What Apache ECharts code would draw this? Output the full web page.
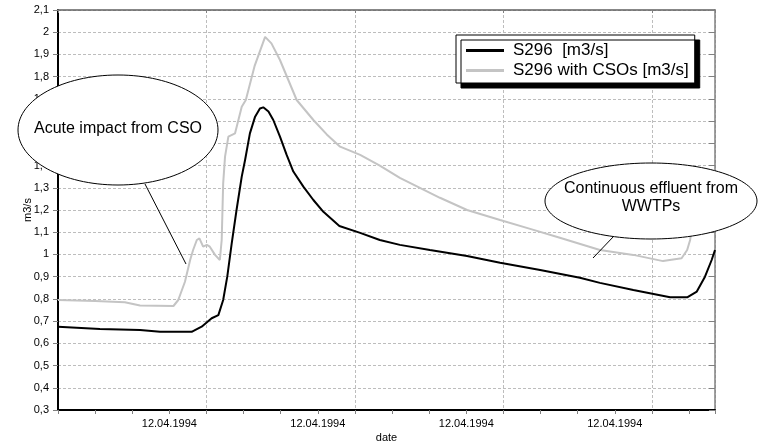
<!DOCTYPE html>
<html>
<head>
<meta charset="utf-8">
<script src="https://cdn.jsdelivr.net/npm/echarts@6/dist/echarts.min.js"></script>
<style>
html,body{margin:0;padding:0;background:#fff;}
#c{width:758px;height:443px;}
</style>
</head>
<body>
<div id="c"></div>
<script>
// ---- data ----
const seriesNames = ['S296  [m3/s]', 'S296 with CSOs [m3/s]'];
const xTickLabel = '12.04.1994';
const labelledTicks = [0, 4, 8, 12];

const s296X = [-3.0,-1.87,-0.79,-0.25,0.60,0.87,1.14,1.32,1.45,1.56,1.68,1.81,1.95,2.04,2.17,2.31,2.44,2.53,2.67,2.80,2.98,3.16,3.34,3.61,3.88,4.15,4.58,5.14,5.67,6.21,7.02,8.02,8.91,9.99,11.06,11.60,12.50,13.49,13.95,14.21,14.43,14.61,14.70];
const s296Y = [0.675,0.665,0.66,0.652,0.652,0.675,0.713,0.727,0.795,0.90,1.05,1.20,1.35,1.425,1.545,1.62,1.657,1.662,1.643,1.605,1.53,1.448,1.373,1.305,1.245,1.192,1.128,1.097,1.065,1.043,1.02,0.993,0.963,0.93,0.895,0.872,0.84,0.807,0.807,0.833,0.90,0.975,1.02];

const csoX = [-3.0,-2.0,-1.2,-0.79,0.11,0.24,0.42,0.56,0.64,0.74,0.81,0.91,1.01,1.09,1.23,1.36,1.41,1.45,1.50,1.59,1.77,1.86,1.95,2.06,2.30,2.58,2.75,2.98,3.43,3.88,4.24,4.60,5.14,5.67,6.21,6.75,7.29,8.02,8.91,9.72,10.52,11.60,12.50,13.30,13.80,13.95,14.03,14.10,14.30,14.70];
const csoY = [0.795,0.79,0.785,0.77,0.768,0.795,0.877,0.975,1.02,1.065,1.072,1.035,1.043,1.035,0.998,0.975,1.065,1.32,1.44,1.53,1.545,1.605,1.665,1.695,1.85,1.979,1.95,1.875,1.695,1.605,1.54,1.485,1.448,1.40,1.345,1.30,1.255,1.20,1.155,1.115,1.075,1.02,0.998,0.97,0.983,1.02,1.065,1.15,1.22,1.30];

const annotation1 = ['Acute impact from CSO'];
const annotation2 = ['Continuous effluent from', 'WWTPs'];

// ---- chart ----
const FONT = '"Liberation Sans", Arial, sans-serif';
const zip = (xs, ys) => xs.map((x, i) => [x, ys[i]]);
const yFmt = v => {
  const s = (Math.round(v * 10) / 10).toFixed(1);
  return s.endsWith('.0') ? s.slice(0, -2) : s.replace('.', ',');
};
const X_MIN = -3, X_MAX = 14.7;
const gridDash = { show: true, lineStyle: { color: '#bdbdbd', type: [3, 2], width: 1 } };

const chart = echarts.init(document.getElementById('c'), null, { renderer: 'canvas' });
chart.setOption({
  backgroundColor: '#fff',
  animation: false,
  textStyle: { fontFamily: FONT },
  grid: { left: 58, right: 43, top: 10, bottom: 33, containLabel: false, outerBoundsMode: 'none' },
  xAxis: [
    {
      type: 'value', position: 'bottom', min: X_MIN, max: X_MAX, interval: 4,
      name: 'date', nameLocation: 'middle', nameGap: 22, nameMoveOverlap: false,
      nameTextStyle: { fontSize: 11, color: '#000', fontFamily: FONT },
      axisLine: { show: true, onZero: false, lineStyle: { color: '#000', width: 2 } },
      axisTick: { show: false },
      axisLabel: {
        show: true, fontSize: 11, color: '#000', margin: 8, fontFamily: FONT,
        customValues: labelledTicks, hideOverlap: false,
        formatter: () => xTickLabel
      },
      splitLine: gridDash
    },
    {
      type: 'value', position: 'bottom', min: X_MIN, max: X_MAX, interval: 1,
      axisLine: { show: false, onZero: false },
      axisTick: { show: true, length: 4, lineStyle: { color: '#808080' } },
      axisLabel: { show: false },
      splitLine: { show: false }
    },
    {
      type: 'value', position: 'top', min: X_MIN, max: X_MAX, interval: 4,
      axisLine: { show: true, onZero: false, lineStyle: { color: '#606060', width: 1.5 } },
      axisTick: { show: true, inside: true, length: 3, lineStyle: { color: '#808080' } },
      axisLabel: { show: false },
      splitLine: { show: false }
    }
  ],
  yAxis: [
    {
      type: 'value', position: 'left', min: 0.3, max: 2.1, interval: 0.1,
      name: 'm3/s', nameLocation: 'middle', nameGap: 25, nameRotate: 90, nameMoveOverlap: false,
      nameTextStyle: { fontSize: 11, color: '#000', fontFamily: FONT },
      axisLine: { show: true, onZero: false, lineStyle: { color: '#000', width: 2 } },
      axisTick: { show: true, length: 5, lineStyle: { color: '#808080' } },
      axisLabel: { fontSize: 11, color: '#000', margin: 9, formatter: yFmt, fontFamily: FONT },
      splitLine: gridDash
    },
    {
      type: 'value', position: 'right', min: 0.3, max: 2.1, interval: 0.1,
      axisLine: { show: true, onZero: false, lineStyle: { color: '#808080', width: 1.5 } },
      axisTick: { show: true, inside: true, length: 6, lineStyle: { color: '#808080' } },
      axisLabel: { show: false },
      splitLine: { show: false }
    }
  ],
  legend: {
    orient: 'vertical', left: 456, top: 35,
    padding: [7, 6, 4, 10], itemGap: 3,
    itemWidth: 38, itemHeight: 3, icon: 'rect',
    backgroundColor: '#fff', borderColor: '#000', borderWidth: 1,
    shadowColor: '#000', shadowBlur: 0, shadowOffsetX: 5, shadowOffsetY: 5,
    textStyle: { fontSize: 17, color: '#000', fontFamily: FONT, padding: [0, 0, 0, 4] },
    data: seriesNames
  },
  series: [
    {
      name: seriesNames[1], type: 'line', xAxisIndex: 0, yAxisIndex: 0,
      showSymbol: false, symbol: 'none', z: 2,
      lineStyle: { color: '#c4c4c4', width: 2 }, itemStyle: { color: '#c4c4c4' },
      data: zip(csoX, csoY)
    },
    {
      name: seriesNames[0], type: 'line', xAxisIndex: 0, yAxisIndex: 0,
      showSymbol: false, symbol: 'none', z: 3,
      lineStyle: { color: '#000', width: 2 }, itemStyle: { color: '#000' },
      data: zip(s296X, s296Y)
    }
  ],
  graphic: [
    { type: 'line', z: 100, shape: { x1: 145, y1: 184, x2: 186, y2: 264 }, style: { stroke: '#000', lineWidth: 1 } },
    { type: 'ellipse', z: 101, shape: { cx: 118, cy: 130, rx: 100, ry: 55 }, style: { fill: '#fff', stroke: '#000', lineWidth: 1 } },
    { type: 'text', z: 102, x: 118, y: 129, style: { text: annotation1.join('\n'), font: '16px ' + FONT, fill: '#000', align: 'center', verticalAlign: 'middle' } },
    { type: 'line', z: 100, shape: { x1: 614, y1: 236, x2: 593, y2: 258 }, style: { stroke: '#000', lineWidth: 1 } },
    { type: 'ellipse', z: 101, shape: { cx: 651, cy: 201, rx: 106, ry: 38 }, style: { fill: '#fff', stroke: '#000', lineWidth: 1 } },
    { type: 'text', z: 102, x: 651, y: 198, style: { text: annotation2.join('\n'), font: '16px ' + FONT, lineHeight: 18, fill: '#000', align: 'center', verticalAlign: 'middle' } }
  ]
});
</script>
</body>
</html>
